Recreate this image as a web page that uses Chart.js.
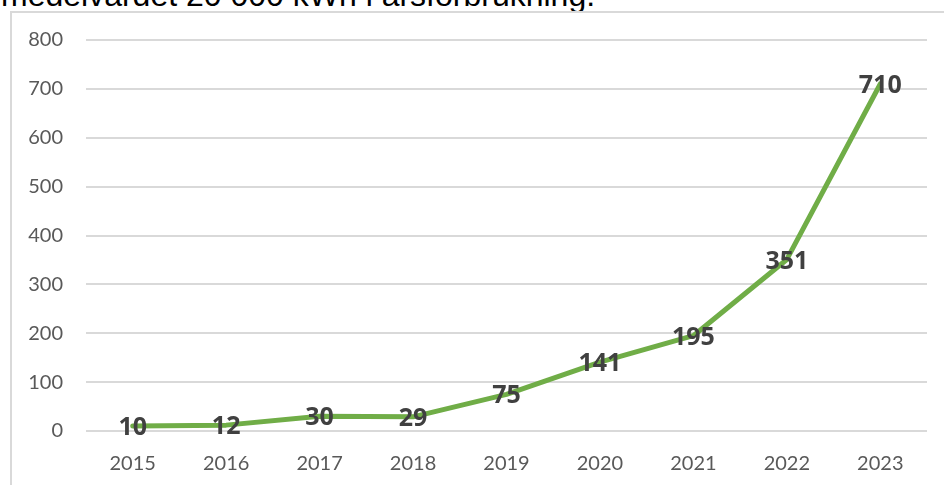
<!DOCTYPE html>
<html>
<head>
<meta charset="utf-8">
<script src="https://cdn.jsdelivr.net/npm/chart.js@4"></script>
<style>
  html, body { margin: 0; padding: 0; background: #ffffff; }
  body { width: 944px; height: 485px; position: relative; overflow: hidden; }
  #caption { position: absolute; left: 1px; top: -21px; font-family: "Liberation Sans", Arial, sans-serif; font-size: 32px; line-height: 32px; color: #000; white-space: nowrap; }
  #frame { position: absolute; left: 10px; top: 11px; width: 960px; height: 500px; border-left: 2px solid #d9d9d9; border-top: 2px solid #d9d9d9; box-sizing: border-box; }
  #wrap { position: absolute; left: 0; top: 0; width: 944px; height: 485px; }
</style>
</head>
<body>
<div id="caption">medelvärdet 20 000 kWh i årsförbrukning.</div>
<div id="frame"></div>
<div id="wrap"><canvas id="c" width="944" height="485"></canvas></div>
<script>
const years = ["2015", "2016", "2017", "2018", "2019", "2020", "2021", "2022", "2023"];
const values = [10, 12, 30, 29, 75, 141, 195, 351, 710];
const yTicks = [0, 100, 200, 300, 400, 500, 600, 700, 800];

const FONT = 'Lato, "Open Sans", sans-serif';
const LABEL_FONT = 'bold 25px "Open Sans", "DejaVu Sans", sans-serif';

const labelPlugin = {
  id: 'valueLabels',
  afterDatasetsDraw(chart) {
    const ctx = chart.ctx;
    const meta = chart.getDatasetMeta(0);
    ctx.save();
    ctx.font = LABEL_FONT;
    ctx.fillStyle = '#404040';
    ctx.textAlign = 'center';
    ctx.textBaseline = 'middle';
    meta.data.forEach((pt, i) => {
      ctx.fillText(String(values[i]), pt.x, pt.y + 2);
    });
    ctx.restore();
  }
};

function build() {
  new Chart(document.getElementById('c'), {
    type: 'line',
    data: {
      labels: years,
      datasets: [{
        data: values,
        borderColor: '#70ad47',
        borderWidth: 5,
        pointRadius: 0,
        tension: 0,
        fill: false,
        borderCapStyle: 'round',
        borderJoinStyle: 'round'
      }]
    },
    options: {
      responsive: false,
      animation: false,
      devicePixelRatio: 1,
      layout: { padding: { top: 40, right: 17, left: 0, bottom: 0 } },
      plugins: { legend: { display: false }, tooltip: { enabled: false } },
      scales: {
        x: {
          type: 'category',
          offset: true,
          grid: { display: false, drawTicks: false },
          border: { display: false },
          ticks: { color: '#595959', font: { family: FONT, size: 20 }, padding: 21, maxRotation: 0 },
          afterFit(s) { s.height = 54; }
        },
        y: {
          min: 0, max: 800,
          afterBuildTicks(s) { s.ticks = yTicks.map(v => ({ value: v })); },
          grid: { color: '#d9d9d9', lineWidth: 2, drawTicks: false },
          border: { display: false },
          ticks: { color: '#595959', font: { family: FONT, size: 20 }, padding: 23 },
          afterFit(s) { s.width = 86; }
        }
      }
    },
    plugins: [labelPlugin]
  });
}

Promise.all([
  document.fonts.load(LABEL_FONT),
  document.fonts.load('20px Lato')
]).then(build, build);
</script>
</body>
</html>
